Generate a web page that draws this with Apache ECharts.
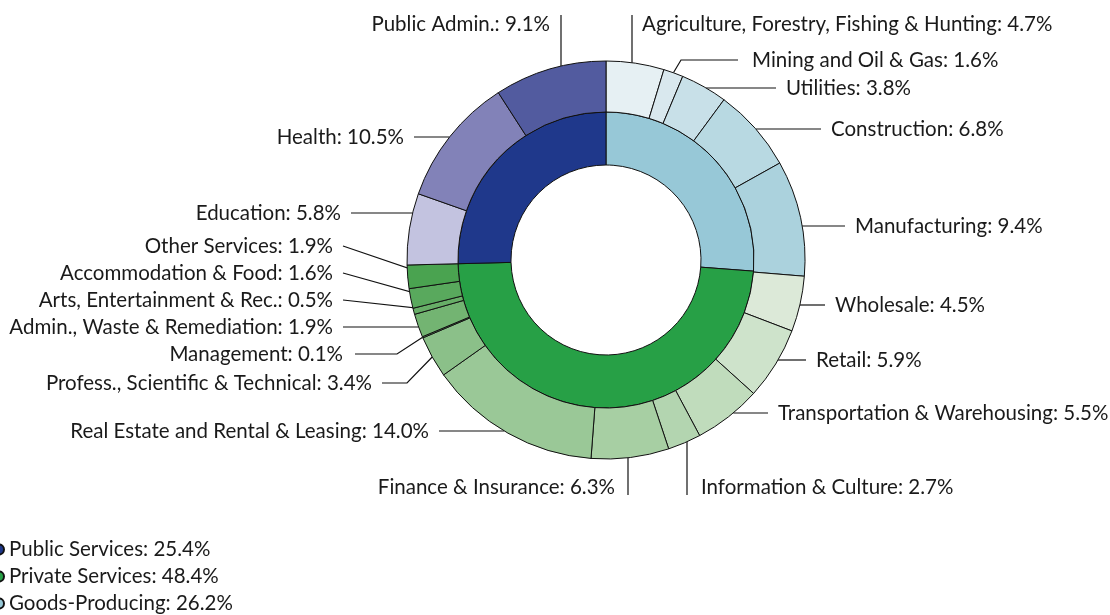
<!DOCTYPE html>
<html>
<head>
<meta charset="utf-8">
<script src="https://cdn.jsdelivr.net/npm/echarts@6/dist/echarts.min.js"></script>
<style>
  html, body { margin: 0; padding: 0; background: #fff; }
  #chart { width: 1110px; height: 615px; }
</style>
</head>
<body>
<div id="chart"></div>
<script>
// ---- data ----
const sectorNames = ['Goods-Producing', 'Private Services', 'Public Services'];
const sectorValues = [26.2, 48.4, 25.4];
const legendOrder = ['Public Services', 'Private Services', 'Goods-Producing'];

const industryNames = [
  'Agriculture, Forestry, Fishing & Hunting',
  'Mining and Oil & Gas',
  'Utilities',
  'Construction',
  'Manufacturing',
  'Wholesale',
  'Retail',
  'Transportation & Warehousing',
  'Information & Culture',
  'Finance & Insurance',
  'Real Estate and Rental & Leasing',
  'Profess., Scientific & Technical',
  'Management',
  'Admin., Waste & Remediation',
  'Arts, Entertainment & Rec.',
  'Accommodation & Food',
  'Other Services',
  'Education',
  'Health',
  'Public Admin.'
];
const industryValues = [4.7, 1.6, 3.8, 6.8, 9.4, 4.5, 5.9, 5.5, 2.7, 6.3, 14.0, 3.4, 0.1, 1.9, 0.5, 1.6, 1.9, 5.8, 10.5, 9.1];

// ---- styles ----
const sectorColors = ['#97c8d7', '#27a046', '#1f388b'];
const industryColors = [
  '#e6f0f3', '#d9e8ee', '#c8e0e8', '#b8d9e2', '#abd2dd',
  '#dce9d8', '#cee3cb', '#c0dcbc', '#b3d5b0', '#a7cfa3', '#9ac897', '#8bc089',
  '#7fba7d', '#73b472', '#67ae67', '#59a95d', '#4aa350',
  '#c3c3e0', '#8282b8', '#525b9f'
];

// ---- layout ----
const CX = 606, CY = 260, R0 = 95, R1 = 148, R2 = 199;
const GAP = 10;
const FONT = 'Lato, "Noto Sans", sans-serif';
const FS = 20.5;
// label placement: k = line kind, x/y = text anchor, a = align
const labelPlace = [
  { k: 'v', x: 642, y: 24, a: 'l', lx: 632, ly: 15 },
  { k: 'b1', x: 752, y: 60, a: 'l', bx: 681, gap: 14 },
  { k: 'h', x: 786, y: 88, a: 'l' },
  { k: 'h', x: 831, y: 129, a: 'l' },
  { k: 'h', x: 855, y: 226, a: 'l' },
  { k: 'h', x: 835, y: 305, a: 'l' },
  { k: 'h', x: 816, y: 360, a: 'l' },
  { k: 'h', x: 778, y: 413, a: 'l' },
  { k: 'v', x: 701, y: 487, a: 'l', lx: 687, ly: 495 },
  { k: 'v', x: 615, y: 487, a: 'r', lx: 628, ly: 495 },
  { k: 'h', x: 429, y: 431, a: 'r' },
  { k: 'b1', x: 372, y: 383, a: 'r', bx: 407 },
  { k: 'b1', x: 343, y: 354, a: 'r', bx: 397, gap: 12 },
  { k: 'h', x: 333, y: 327, a: 'r' },
  { k: 'b2', x: 333, y: 300, a: 'r', hl: 33 },
  { k: 'b2', x: 333, y: 273, a: 'r', hl: 23 },
  { k: 'b2', x: 333, y: 246, a: 'r', hl: 26 },
  { k: 'h', x: 341, y: 213, a: 'r' },
  { k: 'h', x: 404, y: 137, a: 'r' },
  { k: 'v', x: 550, y: 24, a: 'r', lx: 561, ly: 15 }
];

function arcX(y, sign) { return CX + sign * Math.sqrt(R2 * R2 - (y - CY) * (y - CY)); }
function arcY(x, sign) { return CY + sign * Math.sqrt(R2 * R2 - (x - CX) * (x - CX)); }

const chart = echarts.init(document.getElementById('chart'), null, { renderer: 'canvas' });

const option = {
  animation: false,
  backgroundColor: '#ffffff',
  textStyle: { fontFamily: FONT },
  legend: {
    orient: 'vertical',
    left: -7,
    top: 539,
    padding: 0,
    data: legendOrder,
    icon: 'circle',
    itemWidth: 10,
    itemHeight: 10,
    itemGap: 6,
    selectedMode: false,
    formatter: function (name) {
      const i = sectorNames.indexOf(name);
      return name + ': ' + sectorValues[i].toFixed(1) + '%';
    },
    textStyle: { fontFamily: FONT, fontSize: FS, color: '#1a1a1a', lineHeight: 21 }
  },
  series: [
    {
      name: 'Sectors',
      type: 'pie',
      center: [CX, CY],
      radius: [R0, R1],
      startAngle: 90,
      clockwise: true,
      silent: true,
      avoidLabelOverlap: false,
      label: { show: false },
      labelLine: { show: false },
      itemStyle: { borderColor: '#111', borderWidth: 1 },
      emphasis: { disabled: true },
      data: sectorNames.map((n, i) => ({ name: n, value: sectorValues[i], itemStyle: { color: sectorColors[i] } }))
    },
    {
      name: 'Industries',
      type: 'pie',
      center: [CX, CY],
      radius: [R1, R2],
      startAngle: 90,
      clockwise: true,
      silent: true,
      avoidLabelOverlap: false,
      minShowLabelAngle: 0,
      itemStyle: { borderColor: '#111', borderWidth: 1 },
      emphasis: { disabled: true },
      label: {
        show: true,
        position: 'outside',
        fontFamily: FONT,
        fontSize: FS,
        color: '#1a1a1a',
        formatter: function (p) { return p.name + ': ' + p.value.toFixed(1) + '%'; }
      },
      labelLine: { show: true, length: 10, length2: 10, lineStyle: { color: '#111', width: 1.2 } },
      labelLayout: function (p) {
        const s = labelPlace[p.dataIndex];
        const left = s.a === 'l';
        const sign = left ? 1 : -1;
        const gap = s.gap || GAP;
        const ex = left ? s.x - gap : s.x + gap;
        const mid = (p.labelLinePoints && p.labelLinePoints[0]) || [CX, CY];
        let pts;
        if (s.k === 'h') {
          pts = [[arcX(s.y, sign), s.y], [ex, s.y]];
        } else if (s.k === 'v') {
          const vs = s.ly < CY ? -1 : 1;
          pts = [[s.lx, arcY(s.lx, vs)], [s.lx, s.ly]];
        } else if (s.k === 'b1') {
          pts = [[mid[0], mid[1]], [s.bx, s.y], [ex, s.y]];
        } else {
          pts = [[mid[0], mid[1]], [mid[0] - sign * s.hl, mid[1]], [ex, s.y]];
        }
        return {
          x: s.x, y: s.y,
          align: left ? 'left' : 'right',
          verticalAlign: 'middle',
          labelLinePoints: pts
        };
      },
      data: industryNames.map((n, i) => ({ name: n, value: industryValues[i], itemStyle: { color: industryColors[i] } }))
    }
  ]
};

chart.setOption(option);
</script>
</body>
</html>
